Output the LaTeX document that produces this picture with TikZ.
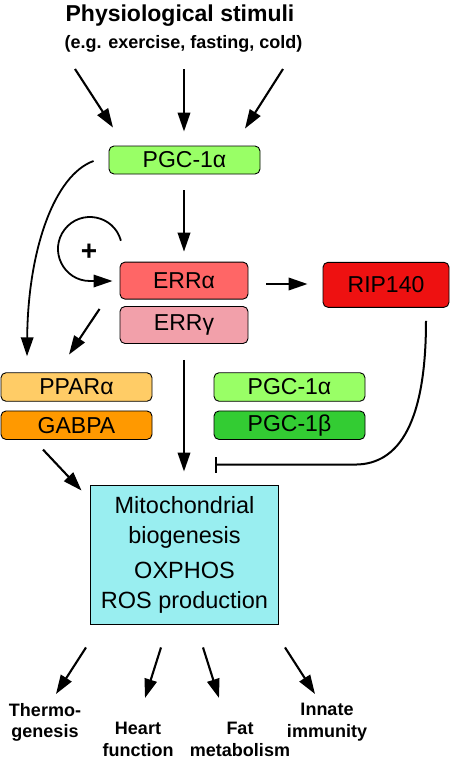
\documentclass[tikz,border=0pt]{standalone}
\usepackage{fontspec}
\setmainfont{Liberation Sans}
\usetikzlibrary{arrows.meta,calc}
\definecolor{pgclight}{RGB}{153,255,102}
\definecolor{pgcdark}{RGB}{51,204,51}
\definecolor{erralpha}{RGB}{255,102,102}
\definecolor{errgamma}{RGB}{242,160,170}
\definecolor{ripred}{RGB}{238,17,17}
\definecolor{pparorange}{RGB}{255,204,102}
\definecolor{gaborange}{RGB}{255,153,0}
\definecolor{mitocyan}{RGB}{153,238,240}
\begin{document}
\begin{tikzpicture}[x=1pt,y=-1pt,
    box/.style={draw=black,line width=0.9pt,rounded corners=5pt,inner sep=0pt,font=\fontsize{23}{26}\selectfont},
    lab/.style={inner sep=0pt,align=center,font=\bfseries\fontsize{18}{21.5}\selectfont},
    arr/.style={line width=2.1pt,-{Triangle[length=19pt,width=12.5pt]}},
    inh/.style={line width=2pt,-{Bar[width=16pt]}}]
    \useasboundingbox (0,0) rectangle (450,766);

    \node[inner sep=0pt,anchor=base,font=\bfseries\fontsize{23}{26}\selectfont] (lstim) at (180,21) {Physiological stimuli};
    \node[inner sep=0pt,anchor=base,font=\bfseries\fontsize{18}{21}\selectfont] (lex) at (183.5,48) {(e.g. exercise, fasting, cold)};

    \node[box,fill=pgclight,minimum width=151pt,minimum height=28pt] (bpgc) at (184.5,160) {PGC-1α};
    \node[box,fill=erralpha,minimum width=128pt,minimum height=37pt] (berra) at (184,280.6) {ERRα};
    \node[box,fill=errgamma,minimum width=128pt,minimum height=37pt] (berrg) at (184,325) {ERRγ};
    \node[box,fill=ripred,minimum width=126pt,minimum height=45pt] (brip) at (386,284.8) {RIP140};
    \node[box,fill=pparorange,minimum width=151pt,minimum height=28.5pt] (bppar) at (76.5,387) {PPARα};
    \node[box,fill=gaborange,minimum width=151pt,minimum height=28.5pt] (bgab) at (76.5,425.2) {GABPA};
    \node[box,fill=pgclight,minimum width=151pt,minimum height=28.5pt] (bpgca) at (289.5,387) {PGC-1α};
    \node[box,fill=pgcdark,minimum width=151pt,minimum height=28.5pt] (bpgcb) at (289.5,425.2) {PGC-1β};
    \node[box,rounded corners=0pt,fill=mitocyan,minimum width=188pt,minimum height=139pt,align=center,font=\fontsize{23.5}{30}\selectfont] (bmito) at (184.5,554.5) {Mitochondrial\\biogenesis\\[5pt]OXPHOS\\ROS production};
    \node[inner sep=0pt,font=\bfseries\fontsize{28}{28}\selectfont] (lplus) at (89,252) {+};

    \node[lab,anchor=north] (lthe) at (45,703) {Thermo-\\genesis};
    \node[lab,anchor=north] (lhea) at (138,722) {Heart\\function};
    \node[lab,anchor=north] (lfat) at (240,722) {Fat\\metabolism};
    \node[lab,anchor=north] (linn) at (327,703) {Innate\\immunity};

    \draw[arr] ($(lex.base)+(-108.5,21)$) -- ($(bpgc.north)+(-71.5,-18)$);
    \draw[arr] ($(lex.base)+(0.5,21)$) -- ($(bpgc.north)+(-0.5,-14)$);
    \draw[arr] ($(lex.base)+(99.5,21)$) -- ($(bpgc.north)+(60.5,-17)$);
    \draw[arr,line width=1.8pt] ($(bpgc.west)+(-15,1)$) .. controls +(-39,14) and +(1,-107) .. ($(bppar.north)+(-49.5,-16)$);
    \draw[arr] ($(bpgc.south)+(-0.5,16)$) -- ($(berra.north)+(0,-10)$);
    \draw[arr,line width=1.8pt] (120.9,240.7) .. controls (114.0,215.1) and (80.8,208.5) .. (64.6,229.5)
        .. controls (48.5,250.6) and (63.5,281) .. (90,281) -- ($(berra.west)+(-7,0.4)$);
    \draw[arr] ($(berra.east)+(18,3.4)$) -- ($(brip.west)+(-15,-0.8)$);
    \draw[arr] ($(berrg.south west)+(-20,-35)$) -- ($(bppar.north)+(-7.5,-17.7)$);
    \draw[arr] ($(berrg.south)+(0,16)$) -- ($(berrg.south |- bmito.north)+(0,-13)$);
    \draw[inh] ($(brip.south)+(40,13)$) .. controls +(0,100) and +(45,0) .. ($(bmito.north)+(170.5,-20)$) -- ($(bmito.north)+(30.5,-20)$);
    \draw[arr] ($(bgab.south)+(-33.5,9.7)$) -- ($(bmito.north west)+(-8.5,6)$);
    \draw[arr] ($(bmito.south)+(-98.5,23)$) -- ($(lthe.north)+(11,-9)$);
    \draw[arr] ($(bmito.south)+(-23.5,23)$) -- ($(lhea.north)+(7,-24)$);
    \draw[arr] ($(bmito.south)+(18.5,23)$) -- ($(lfat.north)+(-21,-24)$);
    \draw[arr] ($(bmito.south)+(100.5,23)$) -- ($(linn.north)+(-12,-9)$);
\end{tikzpicture}
\end{document}
